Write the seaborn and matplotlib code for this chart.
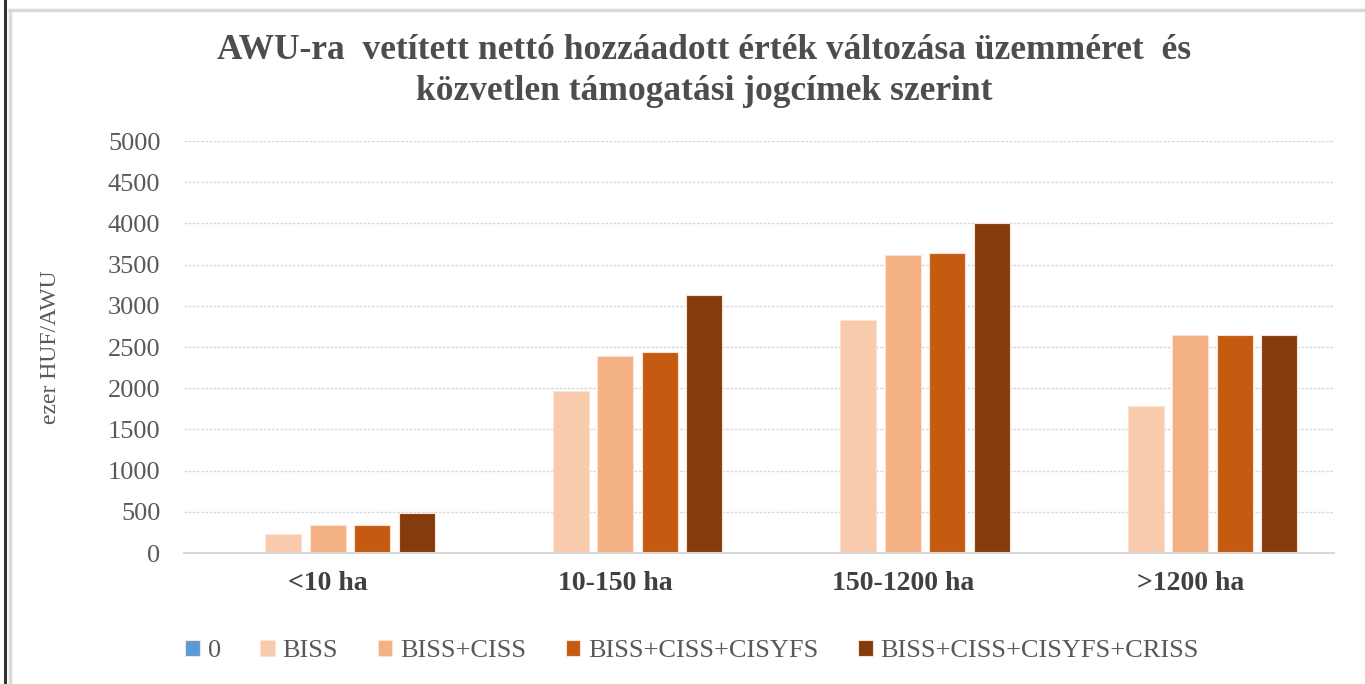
import matplotlib
matplotlib.use("Agg")
import matplotlib.pyplot as plt
from matplotlib.lines import Line2D
import seaborn as sns
import pandas as pd

categories = ["<10 ha", "10-150 ha", "150-1200 ha", ">1200 ha"]
series_names = ["0", "BISS", "BISS+CISS", "BISS+CISS+CISYFS", "BISS+CISS+CISYFS+CRISS"]
vals_0 = [0, 0, 0, 0]
vals_biss = [230, 1970, 2830, 1780]
vals_biss_ciss = [340, 2390, 3620, 2640]
vals_biss_ciss_cisyfs = [340, 2440, 3640, 2640]
vals_full = [490, 3130, 4000, 2640]
colors = ["#5B9BD5", "#F8CBAD", "#F4B183", "#C55A11", "#843C0C"]
yticks = [0, 500, 1000, 1500, 2000, 2500, 3000, 3500, 4000, 4500, 5000]
title = "AWU-ra  vetített nettó hozzáadott érték változása üzemméret  és\nközvetlen támogatási jogcímek szerint"
ylabel = "ezer HUF/AWU"

all_vals = [vals_0, vals_biss, vals_biss_ciss, vals_biss_ciss_cisyfs, vals_full]
rows = []
for name, vals in zip(series_names, all_vals):
    for c, v in zip(categories, vals):
        rows.append({"cat": c, "series": name, "value": v})
df = pd.DataFrame(rows)

sns.set_theme(style="white")
plt.rcParams["font.family"] = ["Liberation Serif", "DejaVu Serif"]

fig = plt.figure(figsize=(13.65, 6.84), dpi=100)
ax = fig.add_axes([184 / 1365, 1 - 553 / 684, 1150 / 1365, 412 / 684])

sns.barplot(data=df, x="cat", y="value", hue="series", order=categories,
            hue_order=series_names, palette=colors, saturation=1, width=0.774, gap=0.2,
            edgecolor="#FBE3D6", linewidth=0.8, ax=ax, legend=True)

ax.set_ylim(0, 5000)
ax.set_xlim(-0.5, 3.5)
ax.set_yticks(yticks)
ax.set_yticklabels([str(t) for t in yticks], fontsize=19, color="#595959")
ax.tick_params(axis="y", length=0, pad=17)
ax.tick_params(axis="x", length=0, pad=13)
for lab in ax.get_xticklabels():
    lab.set_fontsize(20)
    lab.set_fontweight("bold")
    lab.set_color("#404040")
ax.set_xlabel("")
ax.set_ylabel(ylabel, fontsize=17, color="#595959", labelpad=34)
ax.yaxis.grid(True, color="#D9D9D9", linestyle=(0, (2, 1)), linewidth=1.0)
ax.set_axisbelow(True)
for s in ["top", "right", "left"]:
    ax.spines[s].set_visible(False)
ax.spines["bottom"].set_color("#D9D9D9")
ax.spines["bottom"].set_linewidth(1.5)

handles, labels = ax.get_legend_handles_labels()
ax.legend(handles, labels, loc="center", bbox_to_anchor=(692 / 1365, 1 - 651 / 684),
          bbox_transform=fig.transFigure, ncol=5, frameon=False, fontsize=19,
          handlelength=0.55, handleheight=0.55, handletextpad=0.3, columnspacing=1.5,
          labelcolor="#595959")

fig.text(704 / 1365, 1 - 71 / 684, title, ha="center", va="center", fontsize=25.5,
         fontweight="bold", color="#4D4D4D", linespacing=1.3)

# chart frame
fig.add_artist(Line2D([5 / 1365, 5 / 1365], [0, 1], transform=fig.transFigure,
                      color="#333333", linewidth=2.2))
fig.add_artist(Line2D([10 / 1365, 10 / 1365], [0, 1 - 10 / 684], transform=fig.transFigure,
                      color="#D9D9D9", linewidth=2.5))
fig.add_artist(Line2D([9 / 1365, 1], [1 - 10 / 684, 1 - 10 / 684], transform=fig.transFigure,
                      color="#D9D9D9", linewidth=2.5))

fig.savefig("out.png", dpi=100)
